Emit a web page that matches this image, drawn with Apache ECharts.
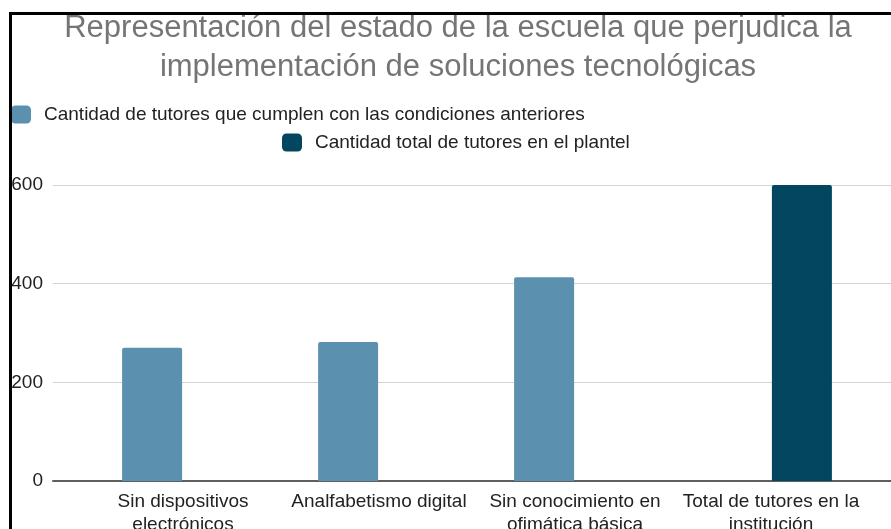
<!DOCTYPE html>
<html>
<head>
<meta charset="utf-8">
<script src="https://cdn.jsdelivr.net/npm/echarts@6/dist/echarts.min.js"></script>
<style>
  html, body { margin: 0; padding: 0; background: #ffffff; overflow: hidden; }
  #chart { position: absolute; left: 0; top: 0; width: 891px; height: 529px; }
  #frame {
    position: absolute; left: 9px; top: 12px; width: 1000px; height: 1000px;
    border-left: 3px solid #000; border-top: 3px solid #000;
    pointer-events: none; box-sizing: border-box;
  }
</style>
</head>
<body>
<div id="chart"></div>
<div id="frame"></div>
<script>
// Chart data
const titleText = 'Representación del estado de la escuela que perjudica la\nimplementación de soluciones tecnológicas';
const categories = [
  'Sin dispositivos\nelectrónicos',
  'Analfabetismo digital',
  'Sin conocimiento en\nofimática básica',
  'Total de tutores en la\ninstitución'
];
const seriesNames = [
  'Cantidad de tutores que cumplen con las condiciones anteriores',
  'Cantidad total de tutores en el plantel'
];
const conditionCounts = [270, 282, 413, null];
const totalCounts = [null, null, null, 600];
const yTicks = { min: 0, max: 600, interval: 200 };

const colorLight = '#5b91af';
const colorDark = '#02475f';
const font = '"Liberation Sans", Arial, sans-serif';

const chart = echarts.init(document.getElementById('chart'), null, { renderer: 'canvas' });

chart.setOption({
  backgroundColor: '#ffffff',
  animation: false,
  title: {
    text: titleText,
    left: 458,
    top: 9,
    padding: 0,
    textAlign: 'center',
    textStyle: {
      fontFamily: font,
      fontSize: 31,
      fontWeight: 'normal',
      lineHeight: 39,
      color: '#757575'
    }
  },
  legend: [
    {
      data: [seriesNames[0]],
      left: 11, top: 105, padding: 0,
      itemWidth: 20, itemHeight: 18,
      icon: 'roundRect',
      textStyle: { fontFamily: font, fontSize: 19, color: '#222', padding: [0, 0, 0, 8] }
    },
    {
      data: [seriesNames[1]],
      left: 282, top: 133, padding: 0,
      itemWidth: 20, itemHeight: 18,
      icon: 'roundRect',
      textStyle: { fontFamily: font, fontSize: 19, color: '#222', padding: [0, 0, 0, 8] }
    }
  ],
  grid: [
    // background grid: gridlines and baseline across the full plot width
    { left: 53, right: -4, top: 185, bottom: 48, containLabel: false, outerBoundsMode: 'none' },
    // bar grid
    { left: 85, right: 22, top: 185, bottom: 48, containLabel: false, outerBoundsMode: 'none' }
  ],
  xAxis: [
    {
      gridIndex: 0, type: 'category', data: [''],
      axisLine: { show: true, lineStyle: { color: '#5f5f5f', width: 2 } },
      axisTick: { show: false }, axisLabel: { show: false }, splitLine: { show: false }
    },
    {
      gridIndex: 1, type: 'category', data: categories,
      axisLine: { show: false }, axisTick: { show: false },
      axisLabel: {
        interval: 0, margin: 9, fontFamily: font, fontSize: 19,
        lineHeight: 23, color: '#222'
      }
    }
  ],
  yAxis: [
    {
      gridIndex: 0, type: 'value',
      min: yTicks.min, max: yTicks.max, interval: yTicks.interval,
      axisLine: { show: false }, axisTick: { show: false },
      axisLabel: { margin: 10, fontFamily: font, fontSize: 19, color: '#222' },
      splitLine: { lineStyle: { color: '#d4d4d4', width: 1 } }
    },
    {
      gridIndex: 1, type: 'value',
      min: yTicks.min, max: yTicks.max, interval: yTicks.interval,
      show: false, splitLine: { show: false }
    }
  ],
  series: [
    {
      name: seriesNames[0], type: 'bar',
      xAxisIndex: 1, yAxisIndex: 1,
      data: conditionCounts,
      barWidth: 60, barGap: '3%',
      itemStyle: { color: colorLight, borderRadius: [2, 2, 0, 0] }
    },
    {
      name: seriesNames[1], type: 'bar',
      xAxisIndex: 1, yAxisIndex: 1,
      data: totalCounts,
      barWidth: 60, barGap: '3%',
      itemStyle: { color: colorDark, borderRadius: [2, 2, 0, 0] }
    }
  ]
});
</script>
</body>
</html>
